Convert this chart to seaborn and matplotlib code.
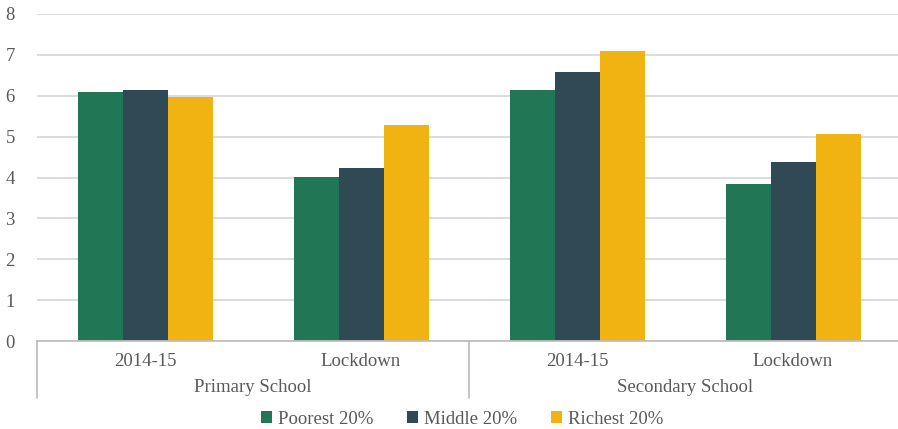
import matplotlib
matplotlib.use("Agg")
import matplotlib.pyplot as plt
import matplotlib.transforms as mtransforms
from matplotlib.patches import Patch
import seaborn as sns
import pandas as pd

# Data
periods = ["2014-15", "Lockdown", "2014-15", "Lockdown"]
schools = ["Primary School", "Secondary School"]
groups = ["Poorest 20%", "Middle 20%", "Richest 20%"]
poorest = [6.10, 4.02, 6.14, 3.85]
middle = [6.14, 4.23, 6.57, 4.37]
richest = [5.97, 5.28, 7.10, 5.06]
palette = ["#217755", "#2F4A54", "#F0B311"]

slots = [f"{s}|{p}" for s, p in zip([schools[0]] * 2 + [schools[1]] * 2, periods)]
rows = []
for i, slot in enumerate(slots):
    for g, vals in zip(groups, [poorest, middle, richest]):
        rows.append({"slot": slot, "group": g, "value": vals[i]})
df = pd.DataFrame(rows)

sns.set_theme(style="white")
plt.rcParams["font.family"] = ["Liberation Serif", "DejaVu Serif"]
text_color = "#595959"
fs = 13.5

fig = plt.figure(figsize=(8.98, 4.29), dpi=100)
W, H = 898, 429
ax = fig.add_axes([37 / W, (H - 341) / H, (898 - 37) / W, (341 - 14) / H])

sns.barplot(data=df, x="slot", y="value", hue="group", order=slots,
            hue_order=groups, palette=palette, width=0.625, gap=0,
            saturation=1, edgecolor="none", legend=False, ax=ax)

ax.set_xlim(-0.5, 3.486)
ax.set_ylim(0, 8)
ax.set_yticks(range(0, 9))
ax.tick_params(axis="y", length=0, labelsize=fs, labelcolor=text_color, pad=16)
ax.set_xticks([])
ax.set_xlabel("")
ax.set_ylabel("")
ax.grid(axis="y", color="#D9D9D9", linewidth=1.3)
ax.set_axisbelow(True)
for side in ["top", "right", "left"]:
    ax.spines[side].set_visible(False)
ax.spines["bottom"].set_color("#BFBFBF")
ax.spines["bottom"].set_linewidth(1.3)

# Two-level category axis
trans = mtransforms.blended_transform_factory(ax.transData, ax.transAxes)
px = 1 / 327
for i, p in enumerate(periods):
    ax.text(i, -20 * px, p, transform=trans, ha="center", va="center",
            fontsize=fs, color=text_color)
for j, s in enumerate(schools):
    ax.text(2 * j + 0.5, -47 * px, s, transform=trans, ha="center", va="center",
            fontsize=fs, color=text_color)
for xsep in [-0.5, 1.5]:
    ax.plot([xsep, xsep], [0, -57 * px], transform=trans, color="#BFBFBF",
            linewidth=1.3, clip_on=False)

handles = [Patch(facecolor=c, edgecolor="none", label=g) for g, c in zip(groups, palette)]
leg = fig.legend(handles=handles, loc="center", bbox_to_anchor=(462 / W, (H - 419) / H),
                 ncol=3, frameon=False, fontsize=fs, handlelength=0.6,
                 handleheight=0.6, handletextpad=0.3, columnspacing=1.8)
for t in leg.get_texts():
    t.set_color(text_color)

fig.savefig("out.png", dpi=100)
